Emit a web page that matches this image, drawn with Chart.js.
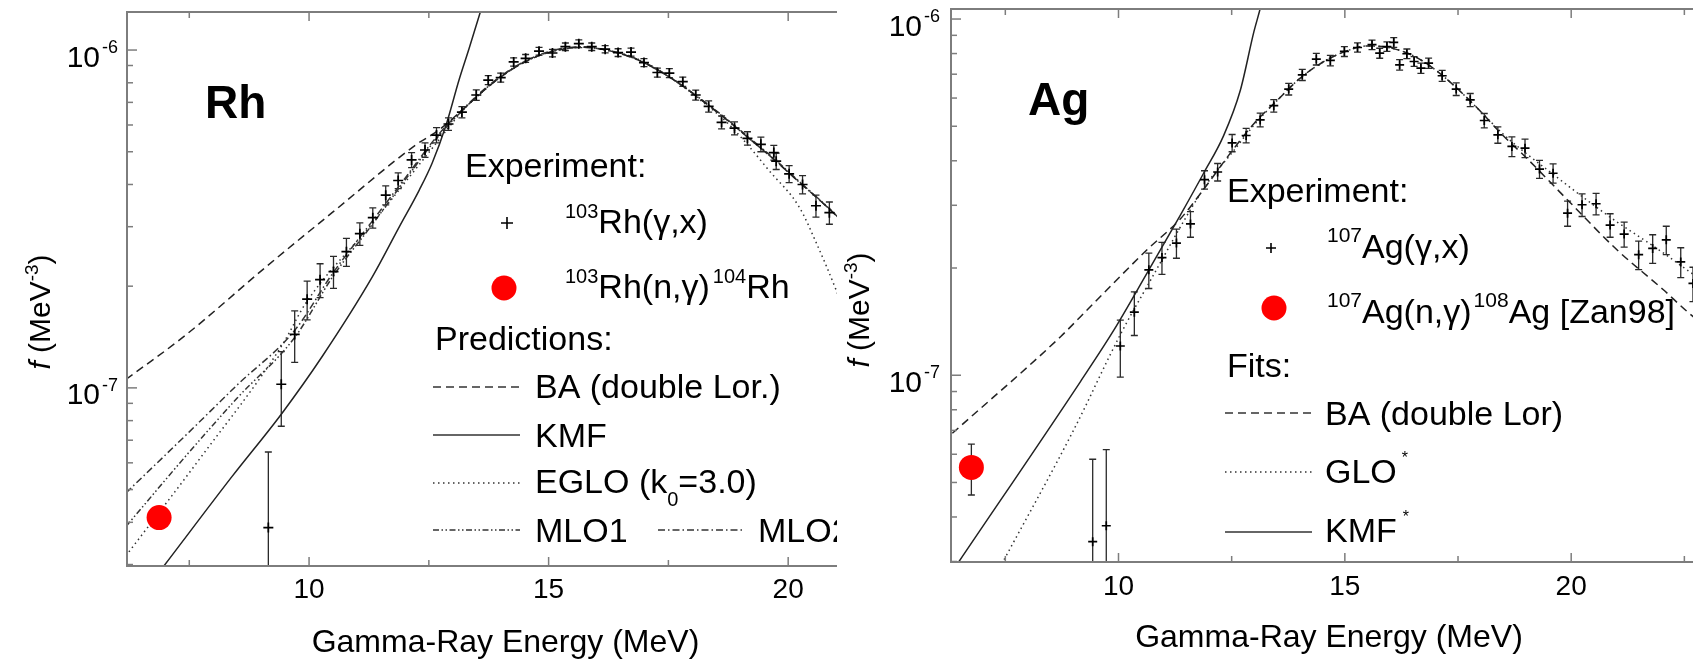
<!DOCTYPE html>
<html>
<head>
<meta charset="utf-8">
<script src="https://cdn.jsdelivr.net/npm/chart.js@4/dist/chart.umd.min.js"></script>
<style>
  html, body { margin: 0; padding: 0; background: #fff; }
  #wrap { position: relative; width: 1693px; height: 663px; overflow: hidden; background: #fff; }
  .panel { position: absolute; top: 0; height: 663px; overflow: hidden; }
  #pRh { left: 0; width: 837px; }
  #pAg { left: 840px; width: 853px; }
  canvas { display: block; }
</style>
</head>
<body>
<div id="wrap">
  <div class="panel" id="pRh"><canvas id="chartRh" width="890" height="663"></canvas></div>
  <div class="panel" id="pAg"><canvas id="chartAg" width="870" height="663"></canvas></div>
</div>
<script>
// ---- axis ticks ----
var xLabels = [10, 15, 20];
var yMajor = [1e-7, 1e-6];
var yMajorExp = ['-7', '-6'];

// ---- Rh panel ----
var rhExpE = [9.15, 9.42, 9.70, 9.96, 10.23, 10.51, 10.78, 11.06, 11.33, 11.60, 11.86, 12.14, 12.42, 12.66, 12.91,
  13.19, 13.49, 13.74, 14.00, 14.27, 14.52, 14.80, 15.08, 15.35, 15.63, 15.90, 16.18, 16.45, 16.72, 16.99,
  17.27, 17.52, 17.80, 18.07, 18.34, 18.61, 18.88, 19.15, 19.43, 19.70, 19.75, 20.02, 20.30, 20.58, 20.86];
var rhExpF = [3.86e-8, 1.025e-7, 1.44e-7, 1.83e-7, 2.09e-7, 2.21e-7, 2.53e-7, 2.86e-7, 3.19e-7, 3.72e-7, 4.11e-7, 4.73e-7, 5.06e-7, 5.60e-7, 6.04e-7,
  6.55e-7, 7.36e-7, 8.15e-7, 8.29e-7, 9.22e-7, 9.45e-7, 9.92e-7, 9.80e-7, 1.023e-6, 1.044e-6, 1.023e-6, 1.006e-6, 9.83e-7, 9.86e-7, 9.18e-7,
  8.58e-7, 8.55e-7, 8.06e-7, 7.36e-7, 6.81e-7, 6.11e-7, 5.87e-7, 5.48e-7, 5.26e-7, 4.97e-7, 4.69e-7, 4.30e-7, 4.00e-7, 3.46e-7, 3.30e-7];
var rhExpErr = [2.6e-8, 2.55e-8, 2.5e-8, 2.4e-8, 2.4e-8, 2.4e-8, 2.4e-8, 2.2e-8, 2.2e-8, 2.4e-8, 2.2e-8, 2.4e-8, 2.5e-8, 2.9e-8, 2.6e-8,
  2.5e-8, 2.6e-8, 2.5e-8, 2.5e-8, 2.6e-8, 2.5e-8, 2.6e-8, 2.5e-8, 2.6e-8, 2.8e-8, 2.6e-8, 2.5e-8, 2.6e-8, 2.7e-8, 2.5e-8,
  2.6e-8, 2.6e-8, 2.5e-8, 2.5e-8, 2.6e-8, 2.7e-8, 2.6e-8, 2.5e-8, 2.6e-8, 2.5e-8, 2.6e-8, 2.5e-8, 2.5e-8, 2.6e-8, 2.5e-8];
var rhNgE = [6.87];
var rhNgF = [4.13e-8];

var rhBaE = [6.18, 7.39, 9.10, 10.48, 12.23, 12.71, 13.2, 13.7, 14.2, 14.7, 15.2, 15.7, 16.2, 16.7, 17.2, 17.7, 18.2, 18.7, 19.2, 19.7, 20.2, 20.7, 21.2, 22.0];
var rhBaF = [1.06e-7, 1.42e-7, 2.28e-7, 3.30e-7, 5.24e-7, 5.80e-7, 6.65e-7, 7.7e-7, 8.7e-7, 9.5e-7, 1.0e-6, 1.02e-6, 1.0e-6, 9.55e-7, 8.85e-7, 8.0e-7, 7.1e-7, 6.25e-7, 5.45e-7, 4.75e-7, 4.1e-7, 3.55e-7, 3.05e-7, 2.4e-7];
var rhKmfE = [6.5, 6.97, 8.39, 9.44, 10.27, 11.32, 11.88, 12.30, 12.57, 12.86, 13.13, 13.34, 13.57, 13.80];
var rhKmfF = [2.43e-8, 2.97e-8, 5.46e-8, 8.43e-8, 1.236e-7, 2.13e-7, 2.99e-7, 3.85e-7, 4.63e-7, 6.0e-7, 8.15e-7, 1.01e-6, 1.29e-6, 1.67e-6];
var rhEgloE = [6.24, 7.7, 9.44, 9.93, 11.32, 12.71, 13.2, 13.7, 14.2, 14.7, 15.2, 15.7, 16.2, 16.7, 17.2, 17.7, 18.2, 18.7, 19.12, 19.6, 20.23, 20.6, 21.0, 21.5, 22.0];
var rhEgloF = [3.27e-8, 6.12e-8, 1.34e-7, 1.78e-7, 3.07e-7, 5.42e-7, 6.6e-7, 7.7e-7, 8.7e-7, 9.5e-7, 1.0e-6, 1.02e-6, 1.0e-6, 9.6e-7, 8.9e-7, 8.0e-7, 7.05e-7, 6.15e-7, 5.31e-7, 4.4e-7, 3.43e-7, 2.66e-7, 1.95e-7, 1.26e-7, 7.6e-8];
var rhMloE = [6.18, 7.5, 8.5, 9.7, 10.5, 11.3, 12.0, 12.7, 13.2, 13.7, 14.2, 14.7, 15.2, 15.7, 16.2, 16.7, 17.2, 17.7, 18.2, 18.7, 19.2, 19.7, 20.2, 20.7, 21.2, 22.0];
var rhMlo1F = [3.89e-8, 6.46e-8, 9.33e-8, 1.41e-7, 2.14e-7, 3.02e-7, 4.12e-7, 5.56e-7, 6.62e-7, 7.72e-7, 8.72e-7, 9.52e-7, 1.0e-6, 1.02e-6, 1.0e-6, 9.58e-7, 8.88e-7, 8.02e-7, 7.12e-7, 6.28e-7, 5.48e-7, 4.78e-7, 4.12e-7, 3.56e-7, 3.06e-7, 2.4e-7];
var rhMlo2F = [4.89e-8, 7.41e-8, 1.02e-7, 1.48e-7, 2.19e-7, 3.09e-7, 4.17e-7, 5.62e-7, 6.66e-7, 7.75e-7, 8.75e-7, 9.55e-7, 1.005e-6, 1.022e-6, 1.0e-6, 9.55e-7, 8.85e-7, 8.0e-7, 7.1e-7, 6.25e-7, 5.45e-7, 4.75e-7, 4.1e-7, 3.55e-7, 3.05e-7, 2.4e-7];

// ---- Ag panel ----
var agExpE = [9.43, 9.73, 10.04, 10.35, 10.67, 10.96, 11.28, 11.59, 11.90, 12.19, 12.51, 12.82, 13.13, 13.43, 13.76, 14.06,
  14.37, 14.68, 14.99, 15.28, 15.60, 15.77, 15.93, 16.08, 16.21, 16.37, 16.53, 16.68, 16.85, 17.15, 17.46, 17.77,
  18.08, 18.38, 18.69, 18.98, 19.30, 19.60, 19.92, 20.24, 20.55, 20.86, 21.17, 21.49, 21.80, 22.10, 22.42, 22.69];
var agExpF = [3.41e-8, 3.78e-8, 1.208e-7, 1.503e-7, 1.977e-7, 2.14e-7, 2.35e-7, 2.66e-7, 3.54e-7, 3.72e-7, 4.49e-7, 4.71e-7, 5.21e-7, 5.71e-7, 6.36e-7, 6.97e-7,
  7.72e-7, 7.65e-7, 8.11e-7, 8.32e-7, 8.47e-7, 8.02e-7, 8.37e-7, 8.60e-7, 7.44e-7, 7.99e-7, 7.60e-7, 7.28e-7, 7.52e-7, 6.93e-7, 6.36e-7, 5.93e-7,
  5.19e-7, 4.73e-7, 4.39e-7, 4.34e-7, 3.79e-7, 3.69e-7, 2.85e-7, 3.01e-7, 3.03e-7, 2.64e-7, 2.49e-7, 2.18e-7, 2.27e-7, 2.40e-7, 2.08e-7, 1.81e-7];
var agExpErr = [2.4e-8, 2.4e-8, 2.2e-8, 2.1e-8, 2.25e-8, 2.2e-8, 2.2e-8, 2.2e-8, 2.1e-8, 2.1e-8, 2.5e-8, 2.2e-8, 2.3e-8, 2.3e-8, 2.4e-8, 2.5e-8,
  2.9e-8, 2.6e-8, 2.6e-8, 2.5e-8, 2.6e-8, 2.6e-8, 2.6e-8, 2.7e-8, 2.5e-8, 2.5e-8, 2.4e-8, 2.4e-8, 2.5e-8, 2.5e-8, 2.6e-8, 2.5e-8,
  2.4e-8, 2.5e-8, 2.8e-8, 2.6e-8, 2.2e-8, 2.3e-8, 2.3e-8, 2.2e-8, 2.1e-8, 2.0e-8, 2.0e-8, 2.0e-8, 2.1e-8, 2.2e-8, 2.0e-8, 2.0e-8];
var agNgE = [6.75];
var agNgF = [5.51e-8];
var agNgErr = [0.9e-8];

var agBaE = [6.33, 8.72, 9.16, 10.63, 11.37, 11.9, 12.5, 13.0, 13.5, 14.0, 14.5, 15.0, 15.5, 16.0, 16.5, 17.0, 17.5, 18.0, 18.5, 18.94, 19.98, 21.01, 22.03, 22.56, 23.0];
var agBaF = [6.87e-8, 1.283e-7, 1.46e-7, 2.25e-7, 2.75e-7, 3.35e-7, 4.25e-7, 5.1e-7, 5.9e-7, 6.8e-7, 7.55e-7, 8.1e-7, 8.4e-7, 8.3e-7, 7.9e-7, 7.2e-7, 6.35e-7, 5.5e-7, 4.7e-7, 4.16e-7, 3.05e-7, 2.25e-7, 1.74e-7, 1.51e-7, 1.36e-7];
var agGloE = [7.0, 7.47, 9.01, 10.04, 10.63, 11.96, 12.5, 13.0, 13.5, 14.0, 14.5, 15.0, 15.5, 16.0, 16.5, 17.0, 17.5, 18.0, 18.5, 19.0, 19.5, 20.0, 20.5, 21.0, 21.5, 22.0, 22.5, 23.0];
var agGloF = [2.35e-8, 3.03e-8, 7.02e-8, 1.3e-7, 1.775e-7, 3.46e-7, 4.2e-7, 5.05e-7, 5.9e-7, 6.8e-7, 7.55e-7, 8.1e-7, 8.4e-7, 8.3e-7, 7.9e-7, 7.2e-7, 6.35e-7, 5.5e-7, 4.75e-7, 4.2e-7, 3.75e-7, 3.35e-7, 3.0e-7, 2.7e-7, 2.45e-7, 2.22e-7, 2.0e-7, 1.8e-7];
var agKmfE = [6.2, 6.47, 9.16, 9.90, 10.63, 11.37, 11.88, 12.32, 12.69, 12.99, 13.13, 13.4];
var agKmfF = [2.66e-8, 2.99e-8, 9.6e-8, 1.34e-7, 1.934e-7, 2.82e-7, 3.69e-7, 4.7e-7, 6.3e-7, 9.2e-7, 1.07e-6, 1.5e-6];

// ---- styles ----
var FONT = '"Liberation Sans", Arial, sans-serif';
var DASH_BA = [8, 5];
var DASH_DOT = [1.5, 3.5];
var DASH_MLO1 = [6, 2.5, 1.5, 2.5, 1.5, 2.5];
var DASH_MLO2 = [7, 3, 1.5, 3];
var LINE_COL = '#222';

function pts(xs, ys) {
  return xs.map(function (x, i) { return { x: x, y: ys[i] }; });
}

function curve(label, xs, ys, dash, col) {
  return {
    label: label, data: pts(xs, ys), showLine: true, pointRadius: 0,
    borderColor: col || LINE_COL, borderWidth: 1.5, borderDash: dash, fill: false,
    cubicInterpolationMode: 'monotone'
  };
}

function expSet(label, xs, ys, errs, r) {
  return {
    label: label, data: pts(xs, ys), errors: errs, pointStyle: 'cross', pointRadius: r,
    borderColor: '#000', pointBorderWidth: 1.7, showLine: false
  };
}

function dotSet(label, xs, ys, errs) {
  return {
    label: label, data: pts(xs, ys), errors: errs, pointStyle: 'circle', pointRadius: 12.5,
    backgroundColor: '#ff0000', borderColor: '#ff0000', pointBorderWidth: 0, showLine: false
  };
}

// text with super/subscripts: parts = [{t, s, dy, it, gap}]
function rich(ctx, x, y, parts, size) {
  ctx.textAlign = 'left';
  ctx.textBaseline = 'alphabetic';
  parts.forEach(function (p) {
    x += p.gap || 0;
    ctx.font = (p.it ? 'italic ' : '') + (p.s || size) + 'px ' + FONT;
    ctx.fillText(p.t, x, y + (p.dy || 0));
    x += ctx.measureText(p.t).width;
  });
}

function richWidth(ctx, parts, size) {
  var w = 0;
  parts.forEach(function (p) {
    ctx.font = (p.it ? 'italic ' : '') + (p.s || size) + 'px ' + FONT;
    w += (p.gap || 0) + ctx.measureText(p.t).width;
  });
  return w;
}

function sample(ctx, x0, x1, y, dash) {
  ctx.save();
  ctx.strokeStyle = '#333';
  ctx.lineWidth = 1.4;
  ctx.setLineDash(dash);
  ctx.beginPath();
  ctx.moveTo(x0, y);
  ctx.lineTo(x1, y);
  ctx.stroke();
  ctx.restore();
}

function cross(ctx, x, y, r) {
  ctx.save();
  ctx.strokeStyle = '#000';
  ctx.lineWidth = 1.6;
  ctx.beginPath();
  ctx.moveTo(x - r, y); ctx.lineTo(x + r, y);
  ctx.moveTo(x, y - r); ctx.lineTo(x, y + r);
  ctx.stroke();
  ctx.restore();
}

function dot(ctx, x, y) {
  ctx.save();
  ctx.fillStyle = '#ff0000';
  ctx.beginPath();
  ctx.arc(x, y, 12.5, 0, Math.PI * 2);
  ctx.fill();
  ctx.restore();
}

function panelPlugin(cfg) {
  return {
    id: 'panelDeco',
    beforeDatasetsDraw: function (chart) {
      var ctx = chart.ctx, ca = chart.chartArea, xs = chart.scales.x, ys = chart.scales.y;
      ctx.save();
      ctx.beginPath();
      ctx.rect(ca.left, ca.top, ca.right - ca.left, ca.bottom - ca.top);
      ctx.clip();
      ctx.strokeStyle = '#2a2a2a';
      ctx.lineWidth = 1.3;
      chart.data.datasets.forEach(function (ds) {
        if (!ds.errors) return;
        ds.data.forEach(function (p, i) {
          var e = ds.errors[i];
          var px = xs.getPixelForValue(p.x);
          var hi = ys.getPixelForValue(p.y + e);
          var lo = p.y - e > 0 ? ys.getPixelForValue(p.y - e) : ca.bottom + 20;
          ctx.beginPath();
          ctx.moveTo(px, hi); ctx.lineTo(px, lo);
          ctx.moveTo(px - 3.5, hi); ctx.lineTo(px + 3.5, hi);
          ctx.moveTo(px - 3.5, lo); ctx.lineTo(px + 3.5, lo);
          ctx.stroke();
        });
      });
      ctx.restore();
    },
    afterDraw: function (chart) {
      var ctx = chart.ctx, ca = chart.chartArea, xs = chart.scales.x, ys = chart.scales.y;
      ctx.save();
      // frame
      ctx.strokeStyle = '#7d7d7d';
      ctx.lineWidth = 2;
      ctx.strokeRect(ca.left, ca.top, ca.right - ca.left, ca.bottom - ca.top);
      // x tick marks, inward on bottom and top
      ctx.lineWidth = 1.5;
      xs.ticks.forEach(function (t) {
        if (t.value < xs.min || t.value > xs.max) return;
        var px = xs.getPixelForValue(t.value);
        var len = xLabels.indexOf(t.value) >= 0 ? 9 : 6;
        ctx.beginPath();
        ctx.moveTo(px, ca.bottom); ctx.lineTo(px, ca.bottom - len);
        ctx.moveTo(px, ca.top); ctx.lineTo(px, ca.top + len);
        ctx.stroke();
      });
      // y tick marks (log decades, 1..9)
      for (var ex = -9; ex <= -5; ex++) {
        for (var m = 1; m <= 9; m++) {
          var v = m * Math.pow(10, ex);
          if (v < ys.min || v > ys.max) continue;
          var py = ys.getPixelForValue(v);
          ctx.beginPath();
          ctx.moveTo(ca.left, py); ctx.lineTo(ca.left + (m === 1 ? 10 : 6), py);
          ctx.stroke();
        }
      }
      // y tick labels 10^n
      ctx.fillStyle = '#000';
      yMajor.forEach(function (v, i) {
        var py = ys.getPixelForValue(v);
        ctx.textAlign = 'right';
        ctx.font = '30px ' + FONT;
        ctx.fillText('10', ca.left - cfg.yLabOff, py + 16.5);
        ctx.textAlign = 'left';
        ctx.font = '18px ' + FONT;
        ctx.fillText(yMajorExp[i], ca.left - cfg.yLabOff + 2, py + 3);
      });
      // y title
      var tparts = [{ t: 'f', it: true }, { t: ' (MeV' }, { t: '-3', s: 19, dy: -12 }, { t: ')' }];
      ctx.save();
      ctx.translate(cfg.yTitleX, cfg.yTitleY);
      ctx.rotate(-Math.PI / 2);
      rich(ctx, -richWidth(ctx, tparts, 30) / 2, 0, tparts, 30);
      ctx.restore();
      // element label
      ctx.font = 'bold 46px ' + FONT;
      ctx.textAlign = 'left';
      ctx.fillText(cfg.name, cfg.nameX, cfg.nameY);
      cfg.legend(ctx);
      ctx.restore();
    }
  };
}

function makePanel(id, cfg) {
  return new Chart(document.getElementById(id), {
    type: 'scatter',
    data: { datasets: cfg.datasets },
    options: {
      responsive: false,
      animation: false,
      events: [],
      layout: { padding: { top: cfg.top, right: cfg.right, left: 0, bottom: 0 }, autoPadding: false },
      plugins: { legend: { display: false }, tooltip: { enabled: false } },
      scales: {
        x: {
          type: 'linear', min: cfg.xMin, max: cfg.xMax,
          afterFit: function (s) { s.height = cfg.xAxisH; },
          grid: { display: false, drawTicks: false },
          border: { display: false },
          ticks: {
            stepSize: 2.5, includeBounds: false, autoSkip: false, maxRotation: 0,
            padding: cfg.xTickPad, color: '#000', font: { family: FONT, size: 28 },
            callback: function (v) { return xLabels.indexOf(v) >= 0 ? String(v) : ''; }
          },
          title: {
            display: true, text: 'Gamma-Ray Energy (MeV)', color: '#000',
            font: { family: FONT, size: 32 }, padding: { top: 0, bottom: cfg.titlePad }
          }
        },
        y: {
          type: 'logarithmic', min: cfg.yMin, max: cfg.yMax,
          afterFit: function (s) { s.width = cfg.yAxisW; },
          grid: { display: false, drawTicks: false },
          border: { display: false },
          ticks: { display: false }
        }
      }
    },
    plugins: [panelPlugin(cfg)]
  });
}

makePanel('chartRh', {
  xMin: 6.2, xMax: 22, yMin: 2.97e-8, yMax: 1.296e-6,
  top: 12, right: 6, yAxisW: 127, xAxisH: 97, xTickPad: 7, titlePad: 1,
  yLabOff: 27, yTitleX: 50, yTitleY: 312,
  name: 'Rh', nameX: 205, nameY: 118,
  datasets: [
    dotSet('103Rh(n,g)104Rh', rhNgE, rhNgF, null),
    expSet('103Rh(g,x)', rhExpE, rhExpF, rhExpErr, 5),
    curve('BA (double Lor.)', rhBaE, rhBaF, DASH_BA),
    curve('KMF', rhKmfE, rhKmfF, []),
    curve('EGLO (k0=3.0)', rhEgloE, rhEgloF, DASH_DOT, '#333'),
    curve('MLO1', rhMloE, rhMlo1F, DASH_MLO1, '#333'),
    curve('MLO2', rhMloE, rhMlo2F, DASH_MLO2, '#333')
  ],
  legend: function (ctx) {
    ctx.fillStyle = '#000';
    rich(ctx, 465, 177, [{ t: 'Experiment:' }], 34);
    cross(ctx, 507, 223, 6);
    rich(ctx, 565, 233, [{ t: '103', s: 20, dy: -15 }, { t: 'Rh(\u03b3,x)' }], 34);
    dot(ctx, 504, 288);
    rich(ctx, 565, 298, [{ t: '103', s: 20, dy: -15 }, { t: 'Rh(n,\u03b3)' }, { t: '104', s: 20, dy: -15, gap: 3 }, { t: 'Rh' }], 34);
    rich(ctx, 435, 350, [{ t: 'Predictions:' }], 34);
    sample(ctx, 433, 520, 387, DASH_BA);
    rich(ctx, 535, 398, [{ t: 'BA (double Lor.)' }], 34);
    sample(ctx, 433, 520, 435, []);
    rich(ctx, 535, 447, [{ t: 'KMF' }], 34);
    sample(ctx, 433, 520, 483, DASH_DOT);
    rich(ctx, 535, 493, [{ t: 'EGLO (k' }, { t: '0', s: 20, dy: 13 }, { t: '=3.0)' }], 34);
    sample(ctx, 433, 520, 530, DASH_MLO1);
    rich(ctx, 535, 542, [{ t: 'MLO1' }], 34);
    sample(ctx, 658, 745, 530, DASH_MLO2);
    rich(ctx, 758, 542, [{ t: 'MLO2' }], 34);
  }
});

makePanel('chartAg', {
  xMin: 6.3, xMax: 23, yMin: 2.99e-8, yMax: 1.067e-6,
  top: 9, right: 3, yAxisW: 111, xAxisH: 101, xTickPad: 8, titlePad: 6,
  yLabOff: 29, yTitleX: 29, yTitleY: 310,
  name: 'Ag', nameX: 188, nameY: 115,
  datasets: [
    dotSet('107Ag(n,g)108Ag [Zan98]', agNgE, agNgF, agNgErr),
    expSet('107Ag(g,x)', agExpE, agExpF, agExpErr, 4.5),
    curve('BA (double Lor)', agBaE, agBaF, DASH_BA),
    curve('GLO*', agGloE, agGloF, DASH_DOT, '#333'),
    curve('KMF*', agKmfE, agKmfF, [])
  ],
  legend: function (ctx) {
    ctx.fillStyle = '#000';
    rich(ctx, 387, 202, [{ t: 'Experiment:' }], 34);
    cross(ctx, 431, 248, 5);
    rich(ctx, 487, 258, [{ t: '107', s: 21, dy: -16 }, { t: 'Ag(\u03b3,x)' }], 34);
    dot(ctx, 434, 308);
    rich(ctx, 487, 323, [{ t: '107', s: 21, dy: -16 }, { t: 'Ag(n,\u03b3)' }, { t: '108', s: 21, dy: -16, gap: 2 }, { t: 'Ag [Zan98]' }], 34);
    rich(ctx, 387, 377, [{ t: 'Fits:' }], 34);
    sample(ctx, 385, 472, 413, DASH_BA);
    rich(ctx, 485, 425, [{ t: 'BA (double Lor)' }], 34);
    sample(ctx, 385, 472, 472, DASH_DOT);
    rich(ctx, 485, 483, [{ t: 'GLO' }, { t: '*', s: 16, dy: -20, gap: 5 }], 34);
    sample(ctx, 385, 472, 532, []);
    rich(ctx, 485, 542, [{ t: 'KMF' }, { t: '*', s: 16, dy: -20, gap: 6 }], 34);
  }
});
</script>
</body>
</html>
